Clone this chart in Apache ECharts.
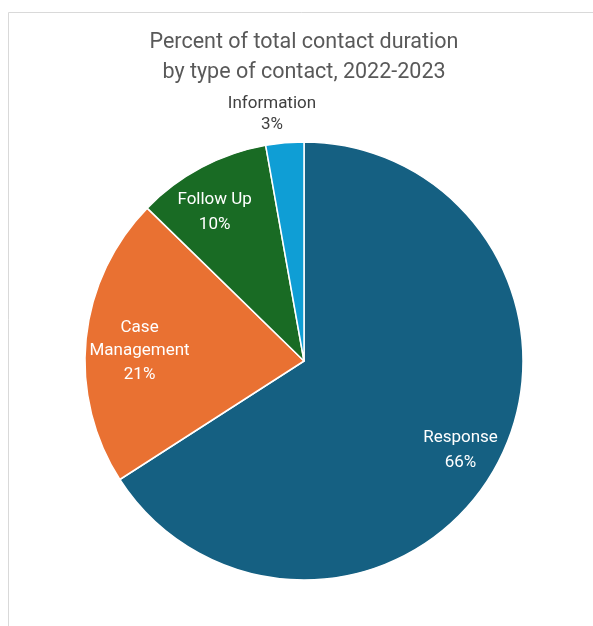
<!DOCTYPE html>
<html><head><meta charset="utf-8">
<script src="https://cdn.jsdelivr.net/npm/echarts@6/dist/echarts.min.js"></script>
<style>html,body{margin:0;padding:0;background:#fff;}#c{width:593px;height:626px;}</style>
</head><body><div id="c"></div>
<script>
const categories = ['Response', 'Case Management', 'Follow Up', 'Information'];
const labelTexts = ['Response', 'Case\nManagement', 'Follow Up', 'Information'];
const values = [65.9, 21.4, 9.9, 2.8];
const colors = ['#156082', '#E97132', '#196B24', '#0F9ED5'];
const titleLines = ['Percent of total contact duration', 'by type of contact, 2022-2023'];

const chart = echarts.init(document.getElementById('c'), null, {renderer: 'canvas'});
const R = 219;
const center = [304, 361];
// label placement style: radial fraction of the pie radius, small nudges, text colour, line height
const labelRadial = [0.816, 0.75, 0.79, 1.13];
const labelNudgeX = [-3, 2, -7, -10];
const labelNudgeY = [2, 7, 7, 3];
const labelColor = ['#fff', '#fff', '#fff', '#404040'];
const labelLineH = [24.5, 23.5, 24.5, 20.5];
const fmt = p => labelTexts[p.dataIndex] + '\n' + Math.round(p.percent) + '%';

const baseData = categories.map((c, i) => ({name: c, value: values[i], itemStyle: {color: colors[i]}}));

const labelSeries = categories.map((cat, k) => ({
  type: 'pie', center: center, radius: [R * (labelRadial[k] - 0.15), R * (labelRadial[k] + 0.15)],
  startAngle: 90, clockwise: true, silent: true, z: 5,
  itemStyle: {color: 'rgba(0,0,0,0)'},
  label: {show: true, position: 'inside', formatter: fmt, color: labelColor[k], fontFamily: 'Roboto', fontSize: 17, lineHeight: labelLineH[k]},
  labelLine: {show: false},
  labelLayout: () => ({dx: labelNudgeX[k], dy: labelNudgeY[k]}),
  data: categories.map((c, i) => ({name: c, value: values[i], label: {show: i === k}}))
}));

chart.setOption({
  animation: false,
  graphic: [{type: 'rect', silent: true, z: -10, shape: {x: 8.5, y: 12.5, width: 700, height: 700}, style: {fill: 'none', stroke: '#d9d9d9', lineWidth: 1}}],
  title: {
    text: titleLines.join('\n'),
    left: 304, top: 28, padding: 0, textAlign: 'center',
    textStyle: {fontFamily: 'Roboto', fontWeight: 'normal', fontSize: 21.5, color: '#595959', lineHeight: 30}
  },
  series: [
    {
      type: 'pie', center: center, radius: [0, R], startAngle: 90, clockwise: true,
      label: {show: false}, labelLine: {show: false}, silent: true,
      itemStyle: {borderColor: '#fff', borderWidth: 1.5},
      data: baseData
    }
  ].concat(labelSeries)
});
</script></body></html>
